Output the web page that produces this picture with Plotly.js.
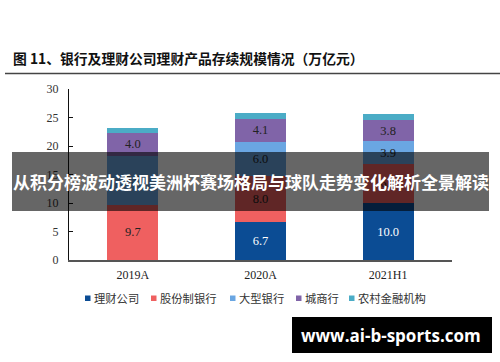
<!DOCTYPE html>
<html>
<head>
<meta charset="utf-8">
<script src="https://cdn.plot.ly/plotly-3.0.1.min.js"></script>
<style>html,body{margin:0;padding:0;background:#fff;}#chart{width:500px;height:362px;}</style>
</head>
<body>
<div id="chart"></div>
<script>
const categories = ['2019A', '2020A', '2021H1'];
const seriesNames = ['理财公司', '股份制银行', '大型银行', '城商行', '农村金融机构'];
const wealthCo = [0, 6.7, 10.0];
const jointStock = [9.7, 8.0, 6.9];
const largeBank = [8.6, 6.0, 3.9];
const cityBank = [4.0, 4.1, 3.8];
const ruralBank = [0.9, 1.0, 1.0];
const yTicks = [0, 5, 10, 15, 20, 25, 30];

const seriesValues = [wealthCo, jointStock, largeBank, cityBank, ruralBank];
const colors = ['#0B4C94', '#EF6060', '#6AA6E2', '#8064A8', '#4BACC6'];
const textColors = ['#ffffff', '#222222', '#222222', '#222222', '#222222'];
const showLabels = [true, true, true, true, false];

const serif = '"Liberation Serif", "Times New Roman", serif';
const cjk = '"Noto Sans CJK SC", sans-serif';

const traces = seriesValues.map((vals, i) => ({
  type: 'bar',
  name: seriesNames[i],
  x: categories,
  y: vals,
  marker: {color: colors[i], line: {width: 0}},
  text: vals.map(v => (showLabels[i] && v > 0) ? v.toFixed(1) : ''),
  textposition: 'inside',
  insidetextanchor: 'middle',
  textangle: 0,
  constraintext: 'none',
  textfont: {family: serif, size: 12.5, color: textColors[i]},
  hoverinfo: 'skip',
  showlegend: false
}));

const L = 69, R = 452, T = 89, B = 260;
const px = v => (v - L) / (R - L);
const py = v => (B - v) / (B - T);

// custom legend (layout positions in pixels)
const legendX = [85, 151, 230, 296, 349];
const legendY = 298;
const legendShapes = seriesNames.map((n, i) => ({
  type: 'rect', xref: 'paper', yref: 'paper',
  x0: px(legendX[i]), x1: px(legendX[i] + 5.5),
  y0: py(legendY + 3), y1: py(legendY - 2.5),
  fillcolor: colors[i], line: {width: 0}
}));
const legendAnn = seriesNames.map((n, i) => ({
  text: n, xref: 'paper', yref: 'paper',
  x: px(legendX[i] + 7), y: py(legendY), xanchor: 'left', yanchor: 'middle',
  showarrow: false,
  font: {family: cjk, size: 11.3, color: '#333333'}
}));

const layout = {
  width: 500,
  height: 362,
  margin: {l: L, r: 500 - R, t: T, b: 362 - B, pad: 0},
  paper_bgcolor: '#ffffff',
  plot_bgcolor: '#ffffff',
  barmode: 'stack',
  bargap: 0.6,
  showlegend: false,
  title: {
    text: '<b>图 11、银行及理财公司理财产品存续规模情况（万亿元）</b>',
    x: 13 / 500, xref: 'container', xanchor: 'left',
    y: 1 - 59 / 362, yref: 'container', yanchor: 'middle',
    font: {family: cjk, size: 13.8, color: '#111111'}
  },
  xaxis: {
    type: 'category',
    range: [-0.5, 2.5],
    showline: true, linecolor: '#555555', linewidth: 1.5,
    ticks: '', showgrid: false, zeroline: false,
    tickfont: {family: serif, size: 12, color: '#222222'},
    ticklabelstandoff: 3
  },
  yaxis: {
    range: [0, 30],
    tickvals: yTicks,
    ticktext: yTicks.map(String),
    ticks: 'inside', ticklen: 4, tickcolor: '#111111', tickwidth: 1,
    showline: true, linecolor: '#111111', linewidth: 1,
    showgrid: false, zeroline: false,
    tickfont: {family: serif, size: 12, color: '#333333'},
    ticklabelstandoff: 7
  },
  shapes: [
    {type: 'line', xref: 'paper', yref: 'paper', x0: px(5), x1: px(500), y0: py(73.5), y1: py(73.5),
     line: {color: '#444444', width: 1.5}},
    ...legendShapes,
    {type: 'rect', xref: 'paper', yref: 'paper', layer: 'above', x0: px(12), x1: px(489), y0: py(211), y1: py(152),
     fillcolor: 'rgba(0,0,0,0.6)', line: {width: 0}},
    {type: 'rect', xref: 'paper', yref: 'paper', layer: 'above', x0: px(292), x1: px(492), y0: py(353), y1: py(317),
     fillcolor: '#000000', line: {width: 0}}
  ],
  annotations: [
    ...legendAnn,
    {text: '<b>从积分榜波动透视美洲杯赛场格局与球队走势变化解析全景解读</b>', xref: 'paper', yref: 'paper',
     x: px(250.5), y: py(181.5), xanchor: 'center', yanchor: 'middle', showarrow: false,
     font: {family: cjk, size: 17, color: '#ffffff'}},
    {text: '<b>www.ai-b-sports.com</b>', xref: 'paper', yref: 'paper',
     x: px(391), y: py(335), xanchor: 'center', yanchor: 'middle', showarrow: false,
     font: {family: '"Open Sans", sans-serif', size: 17, color: '#ffffff'}}
  ]
};

Plotly.newPlot('chart', traces, layout, {displayModeBar: false, staticPlot: true});
</script>
</body>
</html>
